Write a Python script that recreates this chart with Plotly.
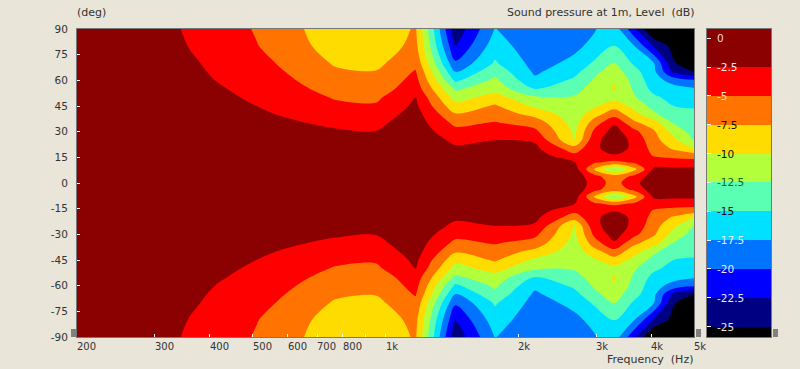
import math
import plotly.graph_objects as go

# ---------- data ----------
freqs = [200, 222, 273, 336, 414, 510, 627, 772, 950, 1170, 1440, 1770, 2180, 2680, 2970, 3300, 3660, 4060, 4500, 5000]
angles_up = [0, 4, 8, 12, 16, 20, 25, 30, 35, 40, 45, 50, 55, 60, 65, 70, 80, 90]

spl_200 = [0, 0, 0, 0, 0, 0, -.1, -.1, -.1, -.2, -.2, -.3, -.3, -.4, -.5, -.6, -.8, -1]
spl_222 = [0, 0, 0, 0, 0, 0, -.1, -.1, -.2, -.2, -.3, -.4, -.5, -.6, -.7, -.8, -1.1, -1.3]
spl_273 = [0, 0, 0, 0, 0, -.1, -.1, -.2, -.3, -.4, -.5, -.7, -.8, -1, -1.1, -1.3, -1.6, -1.8]
spl_336 = [0, 0, 0, 0, 0, -.1, -.2, -.3, -.4, -.55, -.75, -.95, -1.15, -1.35, -1.55, -1.75, -2.15, -2.35]
spl_414 = [0, 0, 0, -.1, -.2, -.3, -.5, -.7, -.9, -1.2, -1.5, -1.9, -2.2, -2.55, -2.8, -3, -3.4, -3.7]
spl_510 = [0, -.1, -.2, -.3, -.4, -.6, -.9, -1.3, -1.7, -2.1, -2.5, -2.9, -3.3, -3.65, -3.95, -4.25, -4.9, -5.2]
spl_627 = [0, -.1, -.2, -.4, -.6, -.9, -1.3, -1.8, -2.3, -2.9, -3.5, -4, -4.5, -5, -5.4, -5.8, -6.5, -7]
spl_772 = [0, -.1, -.2, -.4, -.7, -1.1, -1.6, -2.2, -3, -3.8, -4.5, -5.2, -5.9, -6.5, -7.1, -7.8, -9, -9.5]
spl_950 = [0, -.1, -.3, -.5, -.8, -1.2, -1.8, -2.45, -3.1, -3.9, -4.7, -5.5, -6.3, -6.9, -7.4, -8.1, -9, -9.6]
spl_1170 = [0, 0, -.1, -.2, -.3, -.5, -.7, -.9, -1.2, -1.5, -2, -2.5, -3.6, -4.2, -4.8, -5.7, -6.8, -7.2]
spl_1440 = [-.3, -.4, -.7, -1, -1.5, -2.1, -3, -4.2, -5.6, -7.2, -9.2, -11, -12.9, -15.5, -17.5, -19.6, -22.4, -24.3]
spl_1770 = [-.3, -.4, -.6, -.9, -1.3, -1.8, -2.5, -3.6, -4.8, -6.1, -7.2, -9, -11, -12, -13.3, -14.7, -16.2, -17.4]
spl_2180 = [-.4, -.5, -.6, -.9, -1.3, -1.9, -2.8, -4.4, -6, -8.2, -10.5, -12.1, -15, -17, -17.9, -18.4, -19.2, -19.6]
spl_2680 = [-.6, -.8, -1.3, -2.4, -4.3, -6.3, -10, -10.5, -11, -11.5, -11.9, -12.3, -13.2, -14.5, -15.8, -16.9, -18, -18.6]
spl_2970 = [-3.6, -4.3, -7.5, -4.7, -3.3, -3, -3.3, -4.5, -6.2, -8.5, -10.4, -11, -11.6, -12.2, -13.1, -14.6, -16.9, -17.7]
spl_3300 = [-6, -6.5, -13, -5.7, -2.7, -1.5, -1, -1.4, -2.8, -5.9, -8.5, -10.8, -9.8, -10.2, -11.3, -12.3, -14.9, -16]
spl_3660 = [-3.2, -4.5, -8.3, -4.7, -3.3, -3, -3.2, -4.3, -6.9, -9, -10.8, -12.2, -12.9, -13.4, -14.1, -15.4, -17.4, -22]
spl_4060 = [-.8, -1, -2, -3.8, -5.2, -5.9, -6.6, -7.2, -8.9, -12, -13.4, -14.5, -15.8, -16.5, -17, -17.5, -22.9, -28]
spl_4500 = [-.7, -1, -2, -3.9, -5.7, -7.8, -9.4, -11, -12.6, -14.1, -15, -15.9, -16.6, -18.5, -23.2, -24.8, -25.9, -27]
spl_5000 = [-.7, -1, -2, -4, -6, -10, -12.7, -13.5, -14, -14.5, -15.2, -16.5, -17.2, -19.7, -25.1, -26.5, -26.8, -27]

columns = [spl_200, spl_222, spl_273, spl_336, spl_414, spl_510, spl_627, spl_772, spl_950, spl_1170,
           spl_1440, spl_1770, spl_2180, spl_2680, spl_2970, spl_3300, spl_3660, spl_4060, spl_4500, spl_5000]

band_tops = [0.8, -2.5, -5, -7.5, -10, -12.5, -15, -17.5, -20, -22.5, -25]
band_bottoms = [-2.5, -5, -7.5, -10, -12.5, -15, -17.5, -20, -22.5, -25, -25.9]
band_colors = ["#8b0000", "#ff0000", "#ff7300", "#ffdc00", "#b4ff3c", "#5affb4",
               "#00e1ff", "#0073ff", "#0000ff", "#000082", "#000000"]

cb_values = [0, -2.5, -5, -7.5, -10, -12.5, -15, -17.5, -20, -22.5, -25]
cb_labels = ["0", "-2.5", "-5", "-7.5", "-10", "-12.5", "-15", "-17.5", "-20", "-22.5", "-25"]
cb_label_colors = ["#f0d8d8", "#ffe8e8", "#ffe0c0", "#111", "#111", "#063", "#111",
                   "#e8f0ff", "#e8e8ff", "#e8e8ff", "#e8e8e8"]

x_major = [200, 300, 400, 500, 600, 700, 800, 1000, 2000, 3000, 4000, 5000]
x_labels = ["200", "300", "400", "500", "600", "700", "800", "1k", "2k", "3k", "4k", "5k"]
x_ticks = [300, 400, 500, 600, 700, 800, 900, 1000, 2000, 3000, 4000]
y_ticks = [90, 75, 60, 45, 30, 15, 0, -15, -30, -45, -60, -75, -90]

BG = "#e9e6d9"
FONT = "DejaVu Sans"
TXT = "#333333"

# mirrored polar response: negative angles repeat the positive ones
rows_up = [[col[i] for col in columns] for i in range(len(angles_up))]
angles = [-a for a in angles_up[:0:-1]] + angles_up
z = rows_up[:0:-1] + rows_up

zmin, zmax = -27.5, 0.0
n = len(band_colors)
colorscale = []
for i, c in enumerate(band_colors[::-1]):
    colorscale += [[i / n, c], [(i + 1) / n, c]]

fig = go.Figure()
fig.add_trace(go.Contour(
    x=freqs, y=angles, z=z, zmin=zmin, zmax=zmax, colorscale=colorscale, showscale=False,
    autocontour=False,
    contours=dict(start=-25, end=-2.5, size=2.5, coloring="fill", showlines=False),
    line=dict(width=0), hoverinfo="skip", xaxis="x", yaxis="y",
))
fig.add_trace(go.Bar(
    x=[0] * n, y=[t - b for t, b in zip(band_tops, band_bottoms)], base=band_bottoms,
    marker=dict(color=band_colors, line=dict(width=0)), width=1, xaxis="x2", yaxis="y2",
    hoverinfo="skip", showlegend=False,
))

W, H = 800, 369
anns = []
def txt(x, y, s, anchor="left", color=TXT, xref="paper", yref="paper", size=11, xshift=0):
    anns.append(dict(x=x, y=y, xref=xref, yref=yref, text=s, showarrow=False, xanchor=anchor,
                     yanchor="middle", xshift=xshift, font=dict(family=FONT, size=size, color=color)))

for f, s in zip(x_major, x_labels):
    txt(math.log10(f), 1 - 346 / H, s, xref="x", size=10, xshift=-2)
txt(505 / W, 1 - 13 / H, "Sound pressure at 1m, Level&nbsp; (dB)")
txt(75 / W, 1 - 13 / H, "(deg)")
txt(695 / W, 1 - 359 / H, "Frequency&nbsp; (Hz)", anchor="right")
for v, s, c in zip(cb_values, cb_labels, cb_label_colors):
    txt(715 / W, v, s, color=c, yref="y2", size=10.5)

shapes = [dict(type="rect", xref="paper", yref="paper", x0=a / W, x1=b / W, y0=1 - 337 / H, y1=1 - 329 / H,
               fillcolor="#808080", line=dict(width=0))
          for a, b in [(71, 76), (696, 701), (773, 778)]]

fig.update_layout(
    width=W, height=H, autosize=False, margin=dict(l=0, r=0, t=0, b=0),
    paper_bgcolor=BG, plot_bgcolor=BG, showlegend=False, annotations=anns, shapes=shapes,
    barmode="overlay", bargap=0,
    font=dict(family=FONT, size=11, color=TXT),
    xaxis=dict(domain=[77 / W, 694 / W], type="log", range=[math.log10(200), math.log10(5000)],
               tickvals=x_ticks, showticklabels=False, ticks="inside", ticklen=3, tickcolor="#ffffff",
               tickwidth=1, showgrid=False, zeroline=False, mirror=True, showline=True, automargin=False,
               linecolor="#777777", linewidth=1, anchor="y"),
    yaxis=dict(domain=[1 - 337 / H, 1 - 29 / H], range=[-90, 90], tickvals=y_ticks, automargin=False,
               ticktext=[str(v) for v in y_ticks], ticks="inside", ticklen=3, tickcolor="#ffffff",
               tickwidth=1, showgrid=False, zeroline=False, mirror=True, showline=True,
               linecolor="#777777", linewidth=1, ticklabelstandoff=6, anchor="x",
               tickfont=dict(family=FONT, size=10.5, color=TXT)),
    xaxis2=dict(domain=[707 / W, 771 / W], range=[-0.5, 0.5], showticklabels=False, ticks="",
                automargin=False,
                showgrid=False, zeroline=False, mirror=True, showline=True, linecolor="#777777",
                linewidth=1, anchor="y2"),
    yaxis2=dict(domain=[1 - 337 / H, 1 - 29 / H], range=[-25.9, 0.8], tickvals=cb_values,
                automargin=False,
                showticklabels=False, ticks="inside", ticklen=4, tickcolor="#ffffff",
                showgrid=False, zeroline=False, mirror=True, showline=True, linecolor="#777777",
                linewidth=1, anchor="x2"),
)
fig.write_html("out.html", config=dict(displayModeBar=False),
               post_script="document.documentElement.style.background='" + BG + "';document.body.style.margin='0';document.body.style.overflow='hidden';")
